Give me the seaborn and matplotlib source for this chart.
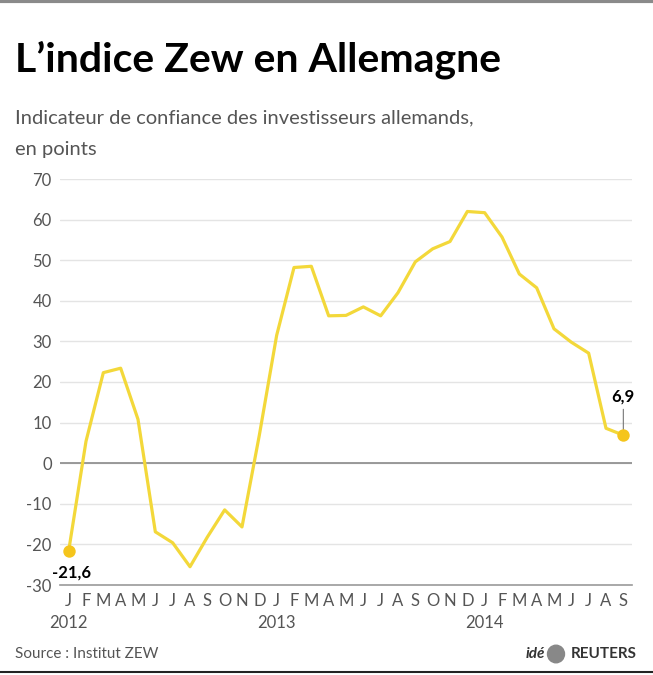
import matplotlib
matplotlib.use("Agg")
import matplotlib.pyplot as plt
import seaborn as sns
import pandas as pd

# --- data (ZEW index, monthly, Jan 2012 - Sep 2014) ---
month_labels = ["J", "F", "M", "A", "M", "J", "J", "A", "S", "O", "N", "D",
                "J", "F", "M", "A", "M", "J", "J", "A", "S", "O", "N", "D",
                "J", "F", "M", "A", "M", "J", "J", "A", "S"]
years = ["2012", "2013", "2014"]
zew = [-21.6, 5.4, 22.3, 23.4, 10.8, -16.9, -19.6, -25.5, -18.2, -11.5, -15.7, 6.9,
       31.5, 48.2, 48.5, 36.3, 36.4, 38.5, 36.3, 42.0, 49.6, 52.8, 54.6, 62.0,
       61.7, 55.7, 46.6, 43.2, 33.1, 29.8, 27.1, 8.6, 6.9]
y_ticks = [-30, -20, -10, 0, 10, 20, 30, 40, 50, 60, 70]

df = pd.DataFrame({"mois": range(len(zew)), "zew": zew})

sns.set_style("white")
plt.rcParams["font.family"] = ["Lato", "DejaVu Sans"]

W, H = 653, 675
fig = plt.figure(figsize=(W / 100, H / 100), dpi=100)
ax = fig.add_axes([60 / W, 1 - 585 / H, 572 / W, 406 / H])

yellow = "#F3D83A"
gold = "#F5C51C"
grey_txt = "#555555"

sns.lineplot(data=df, x="mois", y="zew", ax=ax, color=yellow, linewidth=2.3)
ends = df.iloc[[0, -1]]
ax.scatter(ends["mois"], ends["zew"], s=80, color=gold, zorder=5, linewidths=0)

ax.set_xlim(-0.5, len(zew) - 0.5)
ax.set_ylim(-30, 70)
ax.set_yticks(y_ticks)
ax.set_yticklabels([str(v) for v in y_ticks], fontsize=12, color=grey_txt)
ax.set_xticks(range(len(zew)))
ax.set_xticklabels(month_labels, fontsize=12, color=grey_txt)
ax.tick_params(axis="both", length=0, pad=6)
ax.set_xlabel("")
ax.set_ylabel("")

for v in y_ticks[1:]:
    ax.axhline(v, color="#e4e4e4", linewidth=1, zorder=0)
ax.axhline(0, color="#8a8a8a", linewidth=1.2, zorder=1)
for s in ["top", "right", "left"]:
    ax.spines[s].set_visible(False)
ax.spines["bottom"].set_color("#9a9a9a")
ax.spines["bottom"].set_linewidth(1.2)

for i, yr in enumerate(years):
    ax.text(i * 12, -0.075, yr, transform=ax.get_xaxis_transform(),
            ha="center", va="top", fontsize=12, color=grey_txt)

# endpoint labels
first, last = zew[0], zew[-1]
ax.annotate(f"{first}".replace(".", ","), (0, first), xytext=(2, -10),
            textcoords="offset points", ha="center", va="top",
            fontsize=12, fontweight="bold", color="black")
ax.annotate(f"{last}".replace(".", ","), (len(zew) - 1, last), xytext=(0, 22),
            textcoords="offset points", ha="center", va="bottom",
            fontsize=12, fontweight="bold", color="black",
            arrowprops=dict(arrowstyle="-", color="#777777", lw=0.8,
                            shrinkA=1, shrinkB=4))

# titles
fig.text(15 / W, 1 - 60 / H, "L’indice Zew en Allemagne", fontsize=29.5,
         fontweight="bold", color="black", ha="left", va="center")
fig.text(15 / W, 1 - 118 / H, "Indicateur de confiance des investisseurs allemands,",
         fontsize=14.5, color=grey_txt, ha="left", va="center")
fig.text(15 / W, 1 - 150 / H, "en points", fontsize=14.5,
         color=grey_txt, ha="left", va="center")

# footer
fig.text(15 / W, 1 - 654 / H, "Source : Institut ZEW", fontsize=11,
         color=grey_txt, ha="left", va="center")
fig.text(637 / W, 1 - 654 / H, "REUTERS", fontsize=11, fontweight="bold",
         color="#333333", ha="right", va="center")
fig.text(545 / W, 1 - 654 / H, "idé", fontsize=11, fontweight="bold",
         fontstyle="italic", color="#333333", ha="right", va="center")
fig.patches.append(plt.Circle((556 / W, 1 - 654 / H), 0.013, transform=fig.transFigure,
                              color="#888888", fill=True))

# frame lines top and bottom
fig.add_artist(plt.Line2D([0, 1], [1 - 1 / H, 1 - 1 / H], color="#8a8a8a", linewidth=3))
fig.add_artist(plt.Line2D([0, 1], [1 - 672 / H, 1 - 672 / H], color="#222222", linewidth=1.5))

fig.savefig("out.png", dpi=100, facecolor="white")
